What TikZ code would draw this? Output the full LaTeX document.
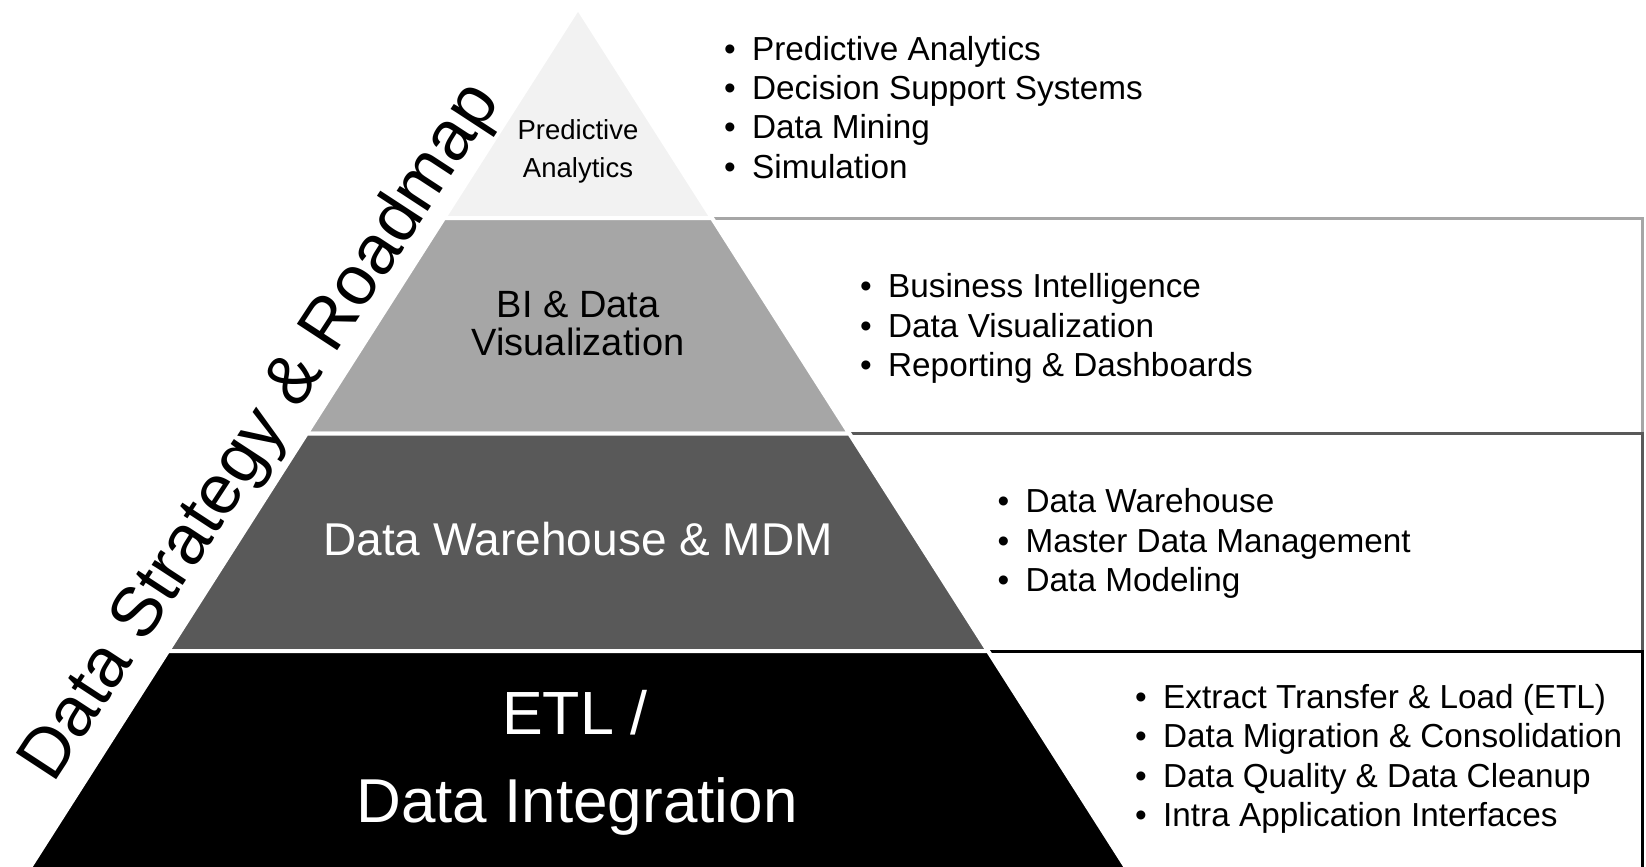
\documentclass[tikz,border=0pt]{standalone}
\usepackage{fontspec}
\setmainfont{Liberation Sans}
\usetikzlibrary{calc}
\definecolor{lone}{HTML}{F2F2F2}
\definecolor{ltwo}{HTML}{A6A6A6}
\definecolor{lthree}{HTML}{595959}
\begin{document}
\begin{tikzpicture}[x=1bp,y=-1bp,
  layer/.style={draw=white, line width=4bp, line join=miter},
  boxline/.style={line width=3bp},
  lbl/.style={inner sep=0pt, anchor=base},
  item/.style={inner sep=0pt, anchor=base west, font=\fontsize{33.3bp}{38bp}\selectfont, text=black}
]
\useasboundingbox (0,0) rectangle (1646,866);

% boxes behind the pyramid
\draw[boxline, draw=ltwo] (600,218) rectangle (1642,433.5);
\draw[boxline, draw=lthree] (700,433.5) rectangle (1642,651);
\draw[boxline, draw=black] (800,651) rectangle (1642,885);

% pyramid geometry
\coordinate (A) at (578,8);
\coordinate (L) at (31,866);
\coordinate (R) at (1125,866);
\coordinate (l1) at ($(A)!0.24476!(L)$);
\coordinate (r1) at ($(A)!0.24476!(R)$);
\coordinate (l2) at ($(A)!0.49592!(L)$);
\coordinate (r2) at ($(A)!0.49592!(R)$);
\coordinate (l3) at ($(A)!0.74942!(L)$);
\coordinate (r3) at ($(A)!0.74942!(R)$);
\coordinate (l4) at ($(A)!1.03!(L)$);
\coordinate (r4) at ($(A)!1.03!(R)$);

\filldraw[layer, fill=lone] (A) -- (r1) -- (l1) -- cycle;
\filldraw[layer, fill=ltwo] (l1) -- (r1) -- (r2) -- (l2) -- cycle;
\filldraw[layer, fill=lthree] (l2) -- (r2) -- (r3) -- (l3) -- cycle;
\filldraw[layer, fill=black] (l3) -- (r3) -- (r4) -- (l4) -- cycle;

% pyramid labels
\node[lbl, font=\fontsize{27.5bp}{30bp}\selectfont] (pa1) at (578,139) {Predictive};
\node[lbl, font=\fontsize{27.5bp}{30bp}\selectfont] (pa2) at (578,177) {Analytics};
\node[lbl, font=\fontsize{38bp}{40bp}\selectfont] (bi1) at (578,317) {BI \& Data};
\node[lbl, font=\fontsize{38bp}{40bp}\selectfont] (bi2) at (578,355) {Visualization};
\node[lbl, font=\fontsize{46bp}{50bp}\selectfont, text=white] (dw) at (578,555) {Data Warehouse \& MDM};
\node[lbl, font=\fontsize{61bp}{64bp}\selectfont, text=white] (etl1) at (575,734) {ETL /};
\node[lbl, font=\fontsize{62bp}{64bp}\selectfont, text=white] (etl2) at (577,822) {Data Integration};

% side title
\node[inner sep=0pt, anchor=base west, rotate=56.8, font=\fontsize{70bp}{74bp}\selectfont] (title) at (53,785) {Data Strategy \& Roadmap};

% lists
\node[item] (t1) at (724,60) {\makebox[28bp][l]{•}Predictive Analytics};
\node[item] (t2) at (724,99.3) {\makebox[28bp][l]{•}Decision Support Systems};
\node[item] (t3) at (724,138.6) {\makebox[28bp][l]{•}Data Mining};
\node[item] (t4) at (724,178) {\makebox[28bp][l]{•}Simulation};

\node[item] (b1) at (860,297) {\makebox[28bp][l]{•}Business Intelligence};
\node[item] (b2) at (860,337) {\makebox[28bp][l]{•}Data Visualization};
\node[item] (b3) at (860,376) {\makebox[28bp][l]{•}Reporting \& Dashboards};

\node[item] (w1) at (997.5,512.7) {\makebox[28bp][l]{•}Data Warehouse};
\node[item] (w2) at (997.5,552) {\makebox[28bp][l]{•}Master Data Management};
\node[item] (w3) at (997.5,591.7) {\makebox[28bp][l]{•}Data Modeling};

\node[item] (e1) at (1135,708) {\makebox[28bp][l]{•}Extract Transfer \& Load (ETL)};
\node[item] (e2) at (1135,747.5) {\makebox[28bp][l]{•}Data Migration \& Consolidation};
\node[item] (e3) at (1135,787) {\makebox[28bp][l]{•}Data Quality \& Data Cleanup};
\node[item] (e4) at (1135,826.5) {\makebox[28bp][l]{•}Intra Application Interfaces};
\end{tikzpicture}
\end{document}
